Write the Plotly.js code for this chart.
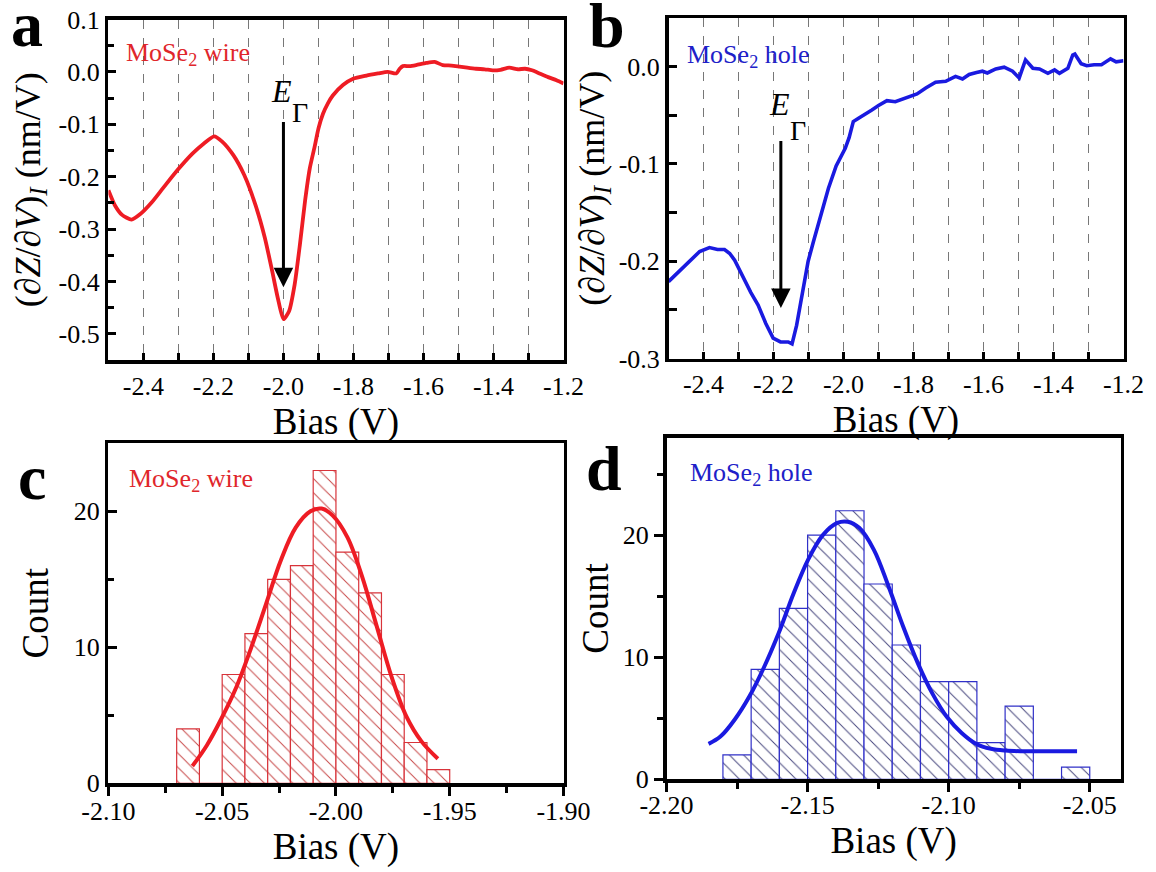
<!DOCTYPE html>
<html>
<head>
<meta charset="utf-8">
<script src="https://cdn.plot.ly/plotly-3.0.1.min.js"></script>
<style>
  html, body { margin: 0; padding: 0; background: #ffffff; }
  #chart { width: 1156px; height: 872px; }
</style>
</head>
<body>
<div id="chart"></div>
<script>
// ---------- Panel a: MoSe2 wire spectrum ----------
const wireBias = [-2.5, -2.482, -2.461, -2.434, -2.408, -2.376, -2.344, -2.302, -2.26, -2.228, -2.198, -2.175, -2.143, -2.112, -2.08, -2.053, -2.032, -2.016, -2.0, -1.984, -1.968, -1.953, -1.938, -1.925, -1.911, -1.9, -1.887, -1.873, -1.859, -1.83, -1.801, -1.763, -1.73, -1.702, -1.678, -1.668, -1.659, -1.64, -1.621, -1.592, -1.568, -1.545, -1.52, -1.497, -1.475, -1.45, -1.425, -1.402, -1.38, -1.355, -1.33, -1.31, -1.29, -1.275, -1.244, -1.22, -1.2];
const wireDzdv = [-0.226, -0.254, -0.273, -0.282, -0.271, -0.249, -0.222, -0.187, -0.156, -0.137, -0.123, -0.133, -0.159, -0.197, -0.254, -0.317, -0.381, -0.432, -0.472, -0.457, -0.406, -0.33, -0.245, -0.185, -0.143, -0.108, -0.08, -0.06, -0.045, -0.025, -0.013, -0.007, -0.003, 0.0, -0.003, 0.006, 0.011, 0.011, 0.013, 0.017, 0.019, 0.013, 0.012, 0.01, 0.008, 0.006, 0.005, 0.003, 0.004, 0.008, 0.005, 0.006, 0.003, -0.001, -0.01, -0.016, -0.022];

// ---------- Panel b: MoSe2 hole spectrum ----------
const holeBias = [-2.5, -2.474, -2.442, -2.411, -2.383, -2.36, -2.34, -2.325, -2.311, -2.29, -2.265, -2.244, -2.222, -2.201, -2.18, -2.158, -2.147, -2.134, -2.118, -2.101, -2.086, -2.072, -2.057, -2.043, -2.021, -1.995, -1.984, -1.972, -1.957, -1.933, -1.919, -1.9, -1.876, -1.852, -1.82, -1.79, -1.765, -1.737, -1.708, -1.68, -1.66, -1.641, -1.62, -1.603, -1.589, -1.565, -1.541, -1.517, -1.498, -1.48, -1.459, -1.44, -1.416, -1.397, -1.383, -1.359, -1.345, -1.339, -1.321, -1.305, -1.284, -1.263, -1.237, -1.221, -1.2];
const holeDzdv = [-0.221, -0.212, -0.202, -0.190, -0.186, -0.188, -0.188, -0.192, -0.199, -0.215, -0.232, -0.245, -0.264, -0.279, -0.283, -0.283, -0.285, -0.266, -0.235, -0.2, -0.18, -0.163, -0.142, -0.125, -0.102, -0.084, -0.073, -0.0565, -0.053, -0.048, -0.0445, -0.04, -0.035, -0.036, -0.032, -0.028, -0.022, -0.016, -0.015, -0.010, -0.0126, -0.008, -0.006, -0.0047, -0.0065, -0.0024, -0.0006, -0.0047, -0.0116, 0.0069, -0.0017, -0.0024, -0.0068, -0.0034, -0.0068, -0.0017, 0.012, 0.013, 0.003, 0.001, 0.002, 0.002, 0.008, 0.005, 0.006];

// ---------- Panel c: histogram (wire) ----------
const wireBinCenters = [-2.065, -2.055, -2.045, -2.035, -2.025, -2.015, -2.005, -1.995, -1.985, -1.975, -1.965, -1.955];
const wireCounts = [4, 0, 8, 11, 15, 16, 23, 17, 14, 8, 3, 1];
const wireFitX = [-2.0631, -2.0567, -2.0502, -2.0437, -2.0372, -2.0307, -2.0242, -2.0177, -2.0112, -2.0063, -2.0015, -1.995, -1.9885, -1.982, -1.9755, -1.969, -1.9625, -1.9552];
const wireFitY = [1.27, 2.8, 4.8, 7.1, 10.0, 13.2, 16.4, 18.8, 20.0, 20.2, 19.7, 18.1, 15.2, 11.5, 7.8, 4.9, 3.1, 1.8];

// ---------- Panel d: histogram (hole) ----------
const holeBinCenters = [-2.175, -2.165, -2.155, -2.145, -2.135, -2.125, -2.115, -2.105, -2.095, -2.085, -2.075, -2.065, -2.055];
const holeCounts = [2, 9, 14, 20, 22, 16, 11, 8, 8, 3, 6, 0, 1];
const holeFitX = [-2.1851, -2.1809, -2.1758, -2.1706, -2.1654, -2.1602, -2.155, -2.1498, -2.1446, -2.1395, -2.1358, -2.1317, -2.1265, -2.1213, -2.1161, -2.1109, -2.1057, -2.1006, -2.0954, -2.0902, -2.085, -2.0798, -2.0746, -2.0668, -2.0545];
const holeFitY = [2.9, 3.5, 4.9, 6.8, 9.2, 12.0, 15.2, 18.0, 20.0, 21.0, 21.1, 20.6, 18.8, 15.8, 12.5, 9.5, 7.0, 5.1, 3.8, 2.9, 2.5, 2.35, 2.3, 2.3, 2.3];

// ---------- Tick labels ----------
const specXTicks = [-2.4, -2.2, -2.0, -1.8, -1.6, -1.4, -1.2];
const specXLabels = ["-2.4", "-2.2", "-2.0", "-1.8", "-1.6", "-1.4", "-1.2"];
const wireYTicks = [0.1, 0.0, -0.1, -0.2, -0.3, -0.4, -0.5];
const wireYLabels = ["0.1", "0.0", "-0.1", "-0.2", "-0.3", "-0.4", "-0.5"];
const holeYTicks = [0.0, -0.1, -0.2, -0.3];
const holeYLabels = ["0.0", "-0.1", "-0.2", "-0.3"];
const histCXTicks = [-2.10, -2.05, -2.00, -1.95, -1.90];
const histCXLabels = ["-2.10", "-2.05", "-2.00", "-1.95", "-1.90"];
const histDXTicks = [-2.20, -2.15, -2.10, -2.05];
const histDXLabels = ["-2.20", "-2.15", "-2.10", "-2.05"];
const countTicks = [0, 10, 20];
const countLabels = ["0", "10", "20"];

const RED = "#ee1c24";
const BLUE = "#1a1ae0";
const FONT = "'Liberation Serif', 'Times New Roman', serif";
const W = 1156, H = 872;
const px = v => v / W;
const py = v => 1 - v / H;

const traces = [
  { x: wireBias, y: wireDzdv, type: "scatter", mode: "lines", xaxis: "x", yaxis: "y",
    line: { color: RED, width: 3.8, shape: "spline", smoothing: 0.6 }, showlegend: false, hoverinfo: "skip" },
  { x: holeBias, y: holeDzdv, type: "scatter", mode: "lines", xaxis: "x2", yaxis: "y2",
    line: { color: BLUE, width: 3.6 }, showlegend: false, hoverinfo: "skip" },
  { x: wireBinCenters, y: wireCounts, type: "bar", xaxis: "x3", yaxis: "y3", width: 0.01,
    marker: { color: "#ffffff", line: { color: "#d8333a", width: 1.2 },
      pattern: { shape: "\\", fgcolor: "#c84a4a", bgcolor: "#ffffff", size: 10, solidity: 0.1 } },
    showlegend: false, hoverinfo: "skip" },
  { x: wireFitX, y: wireFitY, type: "scatter", mode: "lines", xaxis: "x3", yaxis: "y3",
    line: { color: RED, width: 4, shape: "spline" }, showlegend: false, hoverinfo: "skip" },
  { x: holeBinCenters, y: holeCounts, type: "bar", xaxis: "x4", yaxis: "y4", width: 0.01,
    marker: { color: "#ffffff", line: { color: "#3030c8", width: 1.2 },
      pattern: { shape: "\\", fgcolor: "#4a4a80", bgcolor: "#ffffff", size: 10, solidity: 0.1 } },
    showlegend: false, hoverinfo: "skip" },
  { x: holeFitX, y: holeFitY, type: "scatter", mode: "lines", xaxis: "x4", yaxis: "y4",
    line: { color: BLUE, width: 4, shape: "spline" }, showlegend: false, hoverinfo: "skip" }
];

const tickFont = () => ({ family: FONT, size: 26, color: "#000" });
const titleFont = () => ({ family: FONT, size: 37, color: "#000" });

function specX(domain, anchor) {
  return {
    domain: domain, anchor: anchor, range: [-2.5, -1.2],
    tickmode: "array", tickvals: specXTicks, ticktext: specXLabels,
    ticks: "inside", ticklen: 7, tickwidth: 3, tickcolor: "#000",
    showgrid: true, gridcolor: "#777", griddash: "dash", gridwidth: 1.2,
    minor: { dtick: 0.1, tick0: -2.5, ticks: "inside", ticklen: 7, tickwidth: 3, tickcolor: "#000",
             showgrid: true, gridcolor: "#777", griddash: "dash", gridwidth: 1.2 },
    showline: true, linecolor: "#000", linewidth: 3.5, mirror: true, zeroline: false,
    tickfont: tickFont(),
    title: { text: "Bias (V)", font: titleFont(), standoff: 0 }
  };
}

const yTitleText = "(∂<i>Z</i>/∂<i>V</i>)<sub><i>I</i></sub> (nm/V)";

const layout = {
  width: W, height: H,
  margin: { l: 0, r: 0, t: 0, b: 0 },
  paper_bgcolor: "#ffffff", plot_bgcolor: "#ffffff",
  font: { family: FONT, color: "#000", size: 26 },
  showlegend: false,
  bargap: 0,
  xaxis: specX([px(108.4), px(563.5)], "y"),
  yaxis: {
    domain: [py(360), py(19.5)], anchor: "x", range: [-0.55, 0.1],
    tickmode: "array", tickvals: wireYTicks, ticktext: wireYLabels,
    ticks: "inside", ticklen: 8, tickwidth: 3, tickcolor: "#000",
    minor: { dtick: 0.05, tick0: 0, ticks: "inside", ticklen: 6, tickwidth: 3, tickcolor: "#000" },
    showline: true, linecolor: "#000", linewidth: 3.5, mirror: true, zeroline: false, showgrid: false,
    tickfont: tickFont(),
    title: { text: yTitleText, font: { family: FONT, size: 36, color: "#000" }, standoff: 8 }
  },
  xaxis2: specX([px(668.5), px(1123.5)], "y2"),
  yaxis2: {
    domain: [py(358.5), py(18)], anchor: "x2", range: [-0.3, 0.05],
    tickmode: "array", tickvals: holeYTicks, ticktext: holeYLabels,
    ticks: "inside", ticklen: 8, tickwidth: 3, tickcolor: "#000",
    minor: { dtick: 0.05, tick0: 0, ticks: "inside", ticklen: 8, tickwidth: 3, tickcolor: "#000" },
    showline: true, linecolor: "#000", linewidth: 3.5, mirror: true, zeroline: false, showgrid: false,
    tickfont: tickFont(),
    title: { text: yTitleText, font: { family: FONT, size: 36, color: "#000" }, standoff: 4 }
  },
  xaxis3: {
    domain: [px(108.4), px(563.5)], anchor: "y3", range: [-2.10, -1.90],
    tickmode: "array", tickvals: histCXTicks, ticktext: histCXLabels,
    ticks: "outside", ticklen: 9, tickwidth: 3, tickcolor: "#000", ticklabelstandoff: -7,
    minor: { dtick: 0.025, tick0: -2.1, ticks: "outside", ticklen: 6, tickwidth: 3, tickcolor: "#000" },
    showline: true, linecolor: "#000", linewidth: 3.5, mirror: true, zeroline: false, showgrid: false,
    tickfont: tickFont(),
    title: { text: "Bias (V)", font: titleFont(), standoff: 2 }
  },
  yaxis3: {
    domain: [py(783.3), py(443.3)], anchor: "x3", range: [0, 25],
    tickmode: "array", tickvals: countTicks, ticktext: countLabels,
    ticks: "inside", ticklen: 9, tickwidth: 3, tickcolor: "#000",
    minor: { dtick: 5, tick0: 0, ticks: "inside", ticklen: 6, tickwidth: 3, tickcolor: "#000" },
    showline: true, linecolor: "#000", linewidth: 3.5, mirror: true, zeroline: false, showgrid: false,
    tickfont: tickFont(),
    title: { text: "Count", font: titleFont(), standoff: 14 }
  },
  xaxis4: {
    domain: [px(666.5), px(1120.8)], anchor: "y4", range: [-2.20, -2.039],
    tickmode: "array", tickvals: histDXTicks, ticktext: histDXLabels,
    ticks: "outside", ticklen: 9, tickwidth: 3, tickcolor: "#000", ticklabelstandoff: -9,
    minor: { dtick: 0.025, tick0: -2.2, ticks: "outside", ticklen: 6, tickwidth: 3, tickcolor: "#000" },
    showline: true, linecolor: "#000", linewidth: 3.5, mirror: true, zeroline: false, showgrid: false,
    tickfont: tickFont(),
    title: { text: "Bias (V)", font: titleFont(), standoff: 2 }
  },
  yaxis4: {
    domain: [py(779.3), py(437.5)], anchor: "x4", range: [0, 28],
    tickmode: "array", tickvals: countTicks, ticktext: countLabels,
    ticks: "outside", ticklen: 9, tickwidth: 3, tickcolor: "#000",
    minor: { dtick: 5, tick0: 0, ticks: "outside", ticklen: 6, tickwidth: 3, tickcolor: "#000" },
    showline: true, linecolor: "#000", linewidth: 3.5, mirror: true, zeroline: false, showgrid: false,
    tickfont: tickFont(),
    title: { text: "Count", font: titleFont(), standoff: 4 }
  },
  annotations: [
    // panel letters
    { xref: "paper", yref: "paper", x: px(27), y: py(24), text: "<b>a</b>", showarrow: false,
      xanchor: "center", yanchor: "middle", font: { family: FONT, size: 64, color: "#000" } },
    { xref: "paper", yref: "paper", x: px(607), y: py(25), text: "<b>b</b>", showarrow: false,
      xanchor: "center", yanchor: "middle", font: { family: FONT, size: 64, color: "#000" } },
    { xref: "paper", yref: "paper", x: px(32), y: py(477), text: "<b>c</b>", showarrow: false,
      xanchor: "center", yanchor: "middle", font: { family: FONT, size: 64, color: "#000" } },
    { xref: "paper", yref: "paper", x: px(604), y: py(468), text: "<b>d</b>", showarrow: false,
      xanchor: "center", yanchor: "middle", font: { family: FONT, size: 64, color: "#000" } },
    // sample labels
    { xref: "paper", yref: "paper", x: px(124), y: py(54), text: "MoSe<sub>2</sub> wire", showarrow: false,
      xanchor: "left", yanchor: "middle", font: { family: FONT, size: 26, color: "#e0262b" } },
    { xref: "paper", yref: "paper", x: px(685), y: py(56), text: "MoSe<sub>2</sub> hole", showarrow: false,
      xanchor: "left", yanchor: "middle", font: { family: FONT, size: 26, color: "#2020c8" } },
    { xref: "paper", yref: "paper", x: px(127), y: py(480), text: "MoSe<sub>2</sub> wire", showarrow: false,
      xanchor: "left", yanchor: "middle", font: { family: FONT, size: 26, color: "#e0262b" } },
    { xref: "paper", yref: "paper", x: px(688), y: py(474), text: "MoSe<sub>2</sub> hole", showarrow: false,
      xanchor: "left", yanchor: "middle", font: { family: FONT, size: 26, color: "#2020c8" } },
    // E_Gamma labels
    { xref: "x", yref: "y", x: -2.006, y: -0.036, text: "<i>E</i>", showarrow: false,
      xanchor: "center", yanchor: "middle", font: { family: FONT, size: 32, color: "#000" } },
    { xref: "x", yref: "y", x: -1.953, y: -0.078, text: "Γ", showarrow: false,
      xanchor: "center", yanchor: "middle", font: { family: FONT, size: 28, color: "#000" } },
    { xref: "x2", yref: "y2", x: -2.182, y: -0.038, text: "<i>E</i>", showarrow: false,
      xanchor: "center", yanchor: "middle", font: { family: FONT, size: 32, color: "#000" } },
    { xref: "x2", yref: "y2", x: -2.1295, y: -0.066, text: "Γ", showarrow: false,
      xanchor: "center", yanchor: "middle", font: { family: FONT, size: 28, color: "#000" } },
    // arrows
    { xref: "x", yref: "y", axref: "x", ayref: "y", x: -2.0, y: -0.411, ax: -2.0, ay: -0.093,
      text: "", showarrow: true, arrowhead: 2, arrowsize: 1.3, arrowwidth: 3, arrowcolor: "#000", standoff: 0, startstandoff: 0 },
    { xref: "x2", yref: "y2", axref: "x2", ayref: "y2", x: -2.179, y: -0.248, ax: -2.179, ay: -0.075,
      text: "", showarrow: true, arrowhead: 2, arrowsize: 1.3, arrowwidth: 3, arrowcolor: "#000", standoff: 0, startstandoff: 0 }
  ]
};

Plotly.newPlot("chart", traces, layout, { displayModeBar: false, staticPlot: true });
</script>
</body>
</html>
